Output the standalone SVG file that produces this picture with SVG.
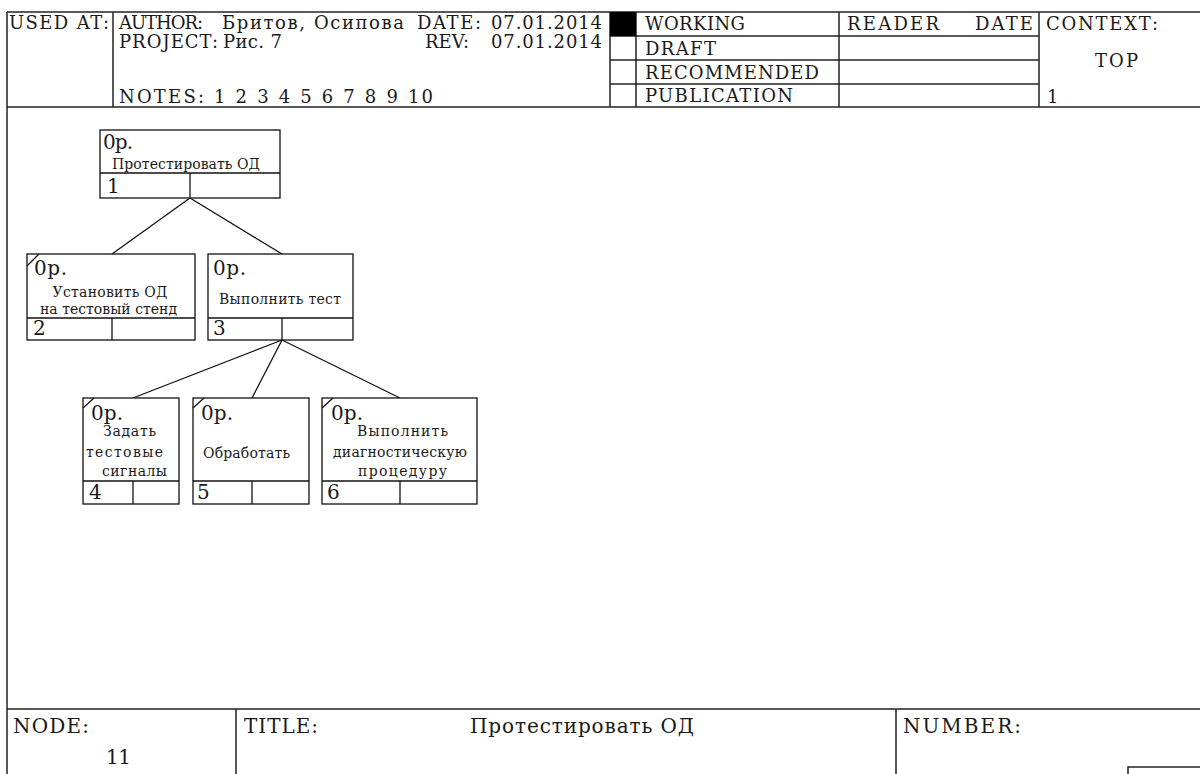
<svg xmlns="http://www.w3.org/2000/svg" width="1200" height="774" viewBox="0 0 1200 774">
<style>
.frame{stroke:#222;stroke-width:1.5;fill:none}
.box{stroke:#111;stroke-width:1.3;fill:#fff}
.ln{stroke:#111;stroke-width:1.3;fill:none}
text{font-family:"DejaVu Serif","Liberation Serif",serif;fill:#1a1a1a}
.h{font-size:18px}
.f{font-size:20px}
.big{font-size:20px}
.lbl{font-size:14px;text-anchor:middle}
</style>
<rect width="1200" height="774" fill="#fff"/>
<g id="frame">
<line class="frame" x1="7" y1="12" x2="1200" y2="12"/>
<line class="frame" x1="7" y1="12" x2="7" y2="774"/>
<line class="frame" x1="7" y1="107" x2="1200" y2="107"/>
<line class="frame" x1="113" y1="12" x2="113" y2="107"/>
<line class="frame" x1="610" y1="12" x2="610" y2="107"/>
<line class="frame" x1="636" y1="12" x2="636" y2="107"/>
<line class="frame" x1="839" y1="12" x2="839" y2="107"/>
<line class="frame" x1="1039" y1="12" x2="1039" y2="107"/>
<line class="frame" x1="610" y1="36" x2="1039" y2="36"/>
<line class="frame" x1="610" y1="60" x2="1039" y2="60"/>
<line class="frame" x1="610" y1="84" x2="1039" y2="84"/>
<rect x="610" y="12" width="26" height="24" fill="#000"/>
<line class="frame" x1="7" y1="709" x2="1200" y2="709"/>
<line class="frame" x1="236" y1="709" x2="236" y2="774"/>
<line class="frame" x1="896" y1="709" x2="896" y2="774"/>
<rect class="frame" x="1128" y="767" width="80" height="20"/>
</g>
<g id="header-text" class="h">
<text x="9" y="29" textLength="100">USED AT:</text>
<text x="119" y="29" textLength="84">AUTHOR:</text>
<text x="222" y="29" textLength="182">Бритов, Осипова</text>
<text x="417" y="29" textLength="64">DATE:</text>
<text x="491" y="29" textLength="111">07.01.2014</text>
<text x="119" y="48" textLength="99">PROJECT:</text>
<text x="223" y="48" textLength="59">Рис. 7</text>
<text x="425" y="48">REV:</text>
<text x="491" y="48" textLength="111">07.01.2014</text>
<text x="119" y="103" textLength="314">NOTES: 1 2 3 4 5 6 7 8 9 10</text>
<text x="645" y="30" textLength="100">WORKING</text>
<text x="645" y="55" textLength="71">DRAFT</text>
<text x="645" y="79" textLength="174">RECOMMENDED</text>
<text x="645" y="102" textLength="148">PUBLICATION</text>
<text x="847" y="30" textLength="92">READER</text>
<text x="975" y="30" textLength="58">DATE</text>
<text x="1046" y="30" textLength="112">CONTEXT:</text>
<text x="1095" y="67" textLength="43">TOP</text>
<text x="1047" y="103">1</text>
</g>
<g id="footer-text" class="f">
<text x="13" y="733" textLength="76">NODE:</text>
<text x="106" y="764" textLength="25">11</text>
<text x="244" y="733" textLength="74">TITLE:</text>
<text x="470" y="733" textLength="224">Протестировать ОД</text>
<text x="903" y="733" textLength="118">NUMBER:</text>
</g>
<g id="connectors">
<line class="ln" x1="190" y1="198" x2="112" y2="254"/>
<line class="ln" x1="190" y1="198" x2="282" y2="254"/>
<line class="ln" x1="282" y1="340" x2="133" y2="398"/>
<line class="ln" x1="282" y1="340" x2="252" y2="398"/>
<line class="ln" x1="282" y1="340" x2="400" y2="398"/>
</g>
<g id="node1">
<rect class="box" x="100" y="130" width="180" height="68"/>
<line class="ln" x1="100" y1="173" x2="280" y2="173"/>
<line class="ln" x1="190" y1="173" x2="190" y2="198"/>
<text class="big" x="103" y="149" textLength="30">0p.</text>
<text class="lbl" x="186" y="169" textLength="148">Протестировать ОД</text>
<text class="big" x="107" y="193">1</text>
</g>
<g id="node2">
<rect class="box" x="27" y="254" width="168" height="86"/>
<line class="ln" x1="27" y1="318" x2="195" y2="318"/>
<line class="ln" x1="112" y1="318" x2="112" y2="340"/>
<line class="ln" x1="27" y1="266" x2="39" y2="254"/>
<text class="big" x="34" y="275" textLength="33">0p.</text>
<text class="lbl" x="110" y="297" textLength="115">Установить ОД</text>
<text class="lbl" x="108.5" y="314" textLength="137">на тестовый стенд</text>
<text class="big" x="33" y="335">2</text>
</g>
<g id="node3">
<rect class="box" x="208" y="254" width="145" height="86"/>
<line class="ln" x1="208" y1="318" x2="353" y2="318"/>
<line class="ln" x1="282" y1="318" x2="282" y2="340"/>
<text class="big" x="213" y="275" textLength="33">0p.</text>
<text class="lbl" x="280" y="304" textLength="122">Выполнить тест</text>
<text class="big" x="213" y="335">3</text>
</g>
<g id="node4">
<rect class="box" x="83" y="398" width="96" height="106"/>
<line class="ln" x1="83" y1="481" x2="179" y2="481"/>
<line class="ln" x1="133" y1="481" x2="133" y2="504"/>
<line class="ln" x1="83" y1="408" x2="94" y2="398"/>
<text class="big" x="91" y="420" textLength="32">0p.</text>
<text class="lbl" x="129.5" y="436" textLength="53">Задать</text>
<text class="lbl" x="124.5" y="457" textLength="77">тестовые</text>
<text class="lbl" x="134.5" y="476" textLength="65">сигналы</text>
<text class="big" x="89" y="499">4</text>
</g>
<g id="node5">
<rect class="box" x="193" y="398" width="116" height="106"/>
<line class="ln" x1="193" y1="481" x2="309" y2="481"/>
<line class="ln" x1="252" y1="481" x2="252" y2="504"/>
<line class="ln" x1="193" y1="408" x2="204" y2="398"/>
<text class="big" x="201" y="420" textLength="32">0p.</text>
<text class="lbl" x="246.5" y="458" textLength="87">Обработать</text>
<text class="big" x="197" y="499">5</text>
</g>
<g id="node6">
<rect class="box" x="322" y="398" width="155" height="106"/>
<line class="ln" x1="322" y1="481" x2="477" y2="481"/>
<line class="ln" x1="400" y1="481" x2="400" y2="504"/>
<line class="ln" x1="322" y1="408" x2="333" y2="398"/>
<text class="big" x="331" y="420" textLength="32">0p.</text>
<text class="lbl" x="402.5" y="436" textLength="91">Выполнить</text>
<text class="lbl" x="400" y="457" textLength="134">диагностическую</text>
<text class="lbl" x="402.5" y="476" textLength="89">процедуру</text>
<text class="big" x="327" y="499">6</text>
</g>
</svg>
